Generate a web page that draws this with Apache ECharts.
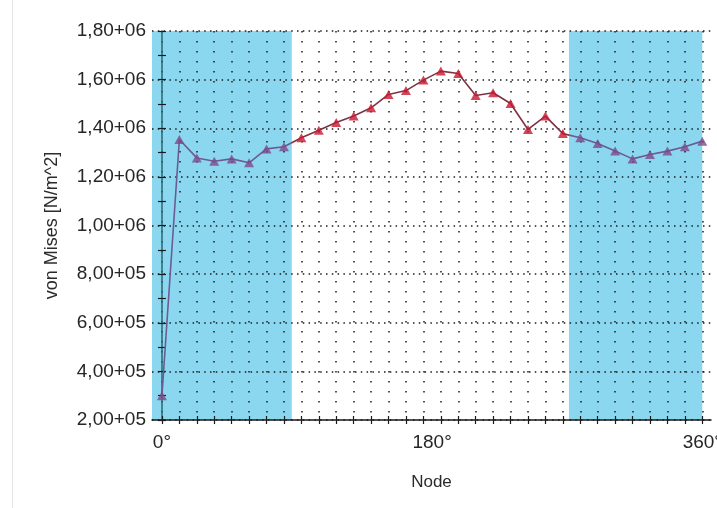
<!DOCTYPE html>
<html>
<head>
<meta charset="utf-8">
<script src="https://cdn.jsdelivr.net/npm/echarts@6/dist/echarts.min.js"></script>
<style>
  html, body { margin: 0; padding: 0; background: #ffffff; }
  #chart { width: 717px; height: 508px; }
</style>
</head>
<body>
<div id="chart"></div>
<script>
// Node numbers along the cut (0 .. 31) and the von Mises stress at each node [N/m^2]
const nodes = [0, 1, 2, 3, 4, 5, 6, 7, 8, 9, 10, 11, 12, 13, 14, 15,
               16, 17, 18, 19, 20, 21, 22, 23, 24, 25, 26, 27, 28, 29, 30, 31];
const vonMises = [3.00e5, 1.354e6, 1.278e6, 1.264e6, 1.274e6, 1.258e6, 1.315e6, 1.324e6,
                  1.361e6, 1.392e6, 1.424e6, 1.450e6, 1.484e6, 1.539e6, 1.555e6, 1.598e6,
                  1.635e6, 1.625e6, 1.535e6, 1.546e6, 1.502e6, 1.395e6, 1.450e6, 1.378e6,
                  1.361e6, 1.337e6, 1.306e6, 1.274e6, 1.292e6, 1.306e6, 1.324e6, 1.347e6];

// Axis tick labels
const yTickValues = [2e5, 4e5, 6e5, 8e5, 1e6, 1.2e6, 1.4e6, 1.6e6, 1.8e6];
const yTickLabels = ['2,00+05', '4,00+05', '6,00+05', '8,00+05', '1,00+06',
                     '1,20+06', '1,40+06', '1,60+06', '1,80+06'];
const xLabelNodes = [0, 15.5, 31];
const xLabelTexts = ['0°', '180°', '360°'];

// Shaded node ranges (start node, end node)
const X_MIN = -0.57, X_MAX = 31.5;
const bands = [[X_MIN, 7.45], [23.35, 31]];

const BAND = '#8cd7f0';
const LINE_IN = '#6b5b93', LINE_OUT = '#7a3442';
const MARK_IN = '#7d4a87', MARK_OUT = '#c8182f';
const inBand = x => bands.some(b => x >= b[0] && x <= b[1]);

const points = nodes.map((n, i) => [n, vonMises[i]]);
const labelFont = 'Liberation Sans, Arial, sans-serif';

// line colour pieces following the shaded ranges
const pieces = [];
pieces.push({ lt: bands[0][1], color: LINE_IN });
pieces.push({ gte: bands[0][1], lt: bands[1][0], color: LINE_OUT });
pieces.push({ gte: bands[1][0], color: LINE_IN });

const chart = echarts.init(document.getElementById('chart'), null, { renderer: 'canvas' });

const option = {
  animation: false,
  backgroundColor: '#ffffff',
  grid: { left: 152, right: 6, top: 31, bottom: 88, show: true,
          containLabel: false, outerBoundsMode: 'none',
          backgroundColor: '#ffffff', borderWidth: 0 },
  graphic: [{
    type: 'line', shape: { x1: 12.5, y1: 0, x2: 12.5, y2: 508 },
    style: { stroke: '#e6e6e6', lineWidth: 1 }, silent: true
  }],
  visualMap: {
    show: false, type: 'piecewise', dimension: 0, seriesIndex: 1, pieces: pieces
  },
  xAxis: [{
    type: 'value', min: X_MIN, max: X_MAX, z: 2,
    name: 'Node', nameLocation: 'middle', nameGap: 54,
    nameTextStyle: { fontFamily: labelFont, fontSize: 17, color: '#2b2b2b' },
    axisLine: { show: true, lineStyle: { color: '#1a1a1a', width: 1.5 } },
    axisTick: { show: true, customValues: nodes, length: 4,
                lineStyle: { color: '#1a1a1a', width: 1.2 } },
    axisLabel: { show: true, customValues: xLabelNodes, margin: 13,
                 fontFamily: labelFont, fontSize: 19, color: '#262626',
                 formatter: v => xLabelTexts[xLabelNodes.indexOf(v)] },
    splitLine: { show: true, lineStyle: { color: '#1c1c1c', width: 1.5, type: [1.5, 8.5] } }
  }, {
    type: 'value', min: X_MIN, max: X_MAX, position: 'bottom', z: 2,
    axisLine: { show: false },
    axisTick: { show: true, inside: true, customValues: nodes, length: 4,
                lineStyle: { color: '#1a1a1a', width: 1.2 } },
    axisLabel: { show: false },
    splitLine: { show: false }
  }],
  yAxis: [{
    type: 'value', min: 2e5, max: 1.8e6, interval: 2e5, z: 2,
    name: 'von Mises [N/m^2]', nameLocation: 'middle', nameGap: 91,
    nameTextStyle: { fontFamily: labelFont, fontSize: 18, color: '#2b2b2b' },
    axisLine: { show: true, lineStyle: { color: '#2a6a72', width: 1.5 } },
    axisTick: { show: true, length: 4, lineStyle: { color: '#1a1a1a', width: 1.2 } },
    minorTick: { show: true, splitNumber: 2, length: 4, lineStyle: { color: '#1a1a1a', width: 1.2 } },
    axisLabel: { margin: 6, fontFamily: labelFont, fontSize: 19, color: '#262626',
                 formatter: v => yTickLabels[yTickValues.findIndex(t => Math.abs(t - v) < 1)] },
    splitLine: { show: true, lineStyle: { color: '#1c1c1c', width: 1.5, type: [1.5, 4.3] } }
  }, {
    type: 'value', min: 2e5, max: 1.8e6, interval: 2e5, position: 'left', z: 2,
    axisLine: { show: false },
    axisTick: { show: true, inside: true, length: 4, lineStyle: { color: '#1a1a1a', width: 1.2 } },
    minorTick: { show: true, splitNumber: 2, length: 4, lineStyle: { color: '#1a1a1a', width: 1.2 } },
    axisLabel: { show: false },
    splitLine: { show: false }
  }],
  series: [{
    // shaded node ranges
    type: 'line', z: 1, data: [], silent: true,
    markArea: {
      silent: true,
      itemStyle: { color: BAND, opacity: 1 },
      data: bands.map(b => [{ xAxis: b[0] }, { xAxis: b[1] }])
    }
  }, {
    type: 'line', z: 3, data: points, showSymbol: false, silent: true,
    lineStyle: { width: 1.6 }
  }, {
    type: 'scatter', z: 4, data: points, symbol: 'triangle', symbolSize: [10, 9],
    itemStyle: { color: p => inBand(p.value[0]) ? MARK_IN : MARK_OUT }
  }]
};

chart.setOption(option);
</script>
</body>
</html>
